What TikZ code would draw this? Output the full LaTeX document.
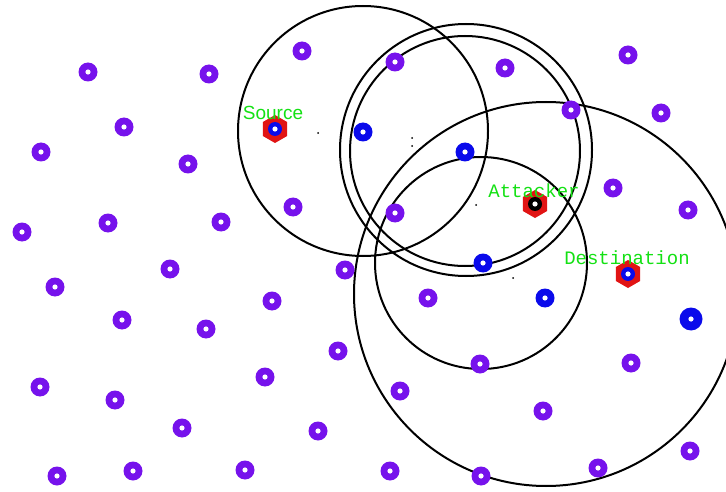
\documentclass[tikz,border=0pt]{standalone}
\usepackage{fontspec}
\setmainfont{Liberation Sans}
\newfontfamily\labmono{Liberation Mono}
\usetikzlibrary{shapes.geometric}
\definecolor{nodepurple}{RGB}{118,18,236}
\definecolor{nodeblue}{RGB}{10,10,235}
\definecolor{hexred}{RGB}{225,20,20}
\definecolor{labgreen}{RGB}{20,225,20}
\tikzset{
  pnode/.style={circle, fill=nodepurple, minimum size=19pt, inner sep=0pt,
    path picture={\fill[white] (path picture bounding box.center) circle (2.6pt);}},
  bnode/.style={pnode, fill=nodeblue},
  hexnode/.style={regular polygon, regular polygon sides=6, shape border rotate=30,
    fill=hexred, minimum size=28pt, inner sep=0pt},
  hnode/.style={pnode, minimum size=14pt},
  rangecircle/.style={draw=black, line width=2pt},
  tinydot/.style={fill=black},
  lab/.style={text=labgreen, inner sep=0pt, font=\labmono\fontsize{19}{19}\selectfont},
  labsans/.style={text=labgreen, inner sep=0pt, font=\fontsize{19}{19}\selectfont}
}
\begin{document}
\begin{tikzpicture}[x=1pt,y=-1pt]
\useasboundingbox (0,0) rectangle (726,492);
\fill[white] (0,0) rectangle (726,492);
\clip (0,0) rectangle (726,492);
% range circles
\draw[rangecircle] (363,131) circle[radius=125pt];
\draw[rangecircle] (466,150) circle[radius=126pt];
\draw[rangecircle] (465,151) circle[radius=115pt];
\draw[rangecircle] (481,263) circle[radius=106pt];
\draw[rangecircle] (546,294) circle[radius=192pt];
% tiny dots
\fill[tinydot] (318,133) circle (1pt);
\fill[tinydot] (412,138) circle (1pt);
\fill[tinydot] (412,146) circle (1pt);
\fill[tinydot] (476,205) circle (1pt);
\fill[tinydot] (513,278) circle (1pt);
% hexagons
\node[hexnode] (srcHex) at (275,129) {};
\node[hexnode] (attHex) at (535,204) {};
\node[hexnode] (dstHex) at (628,274) {};
% special nodes
\node[hnode, fill=nodeblue] (n10) at (275,129) {};
\node[hnode, fill=black] (n17) at (535,204) {};
\node[hnode, fill=nodeblue] (n29) at (628,274) {};
% blue nodes
\node[bnode] (n11) at (363,132) {};
\node[bnode] (n12) at (465,152) {};
\node[bnode] (n26) at (483,263) {};
\node[bnode] (n28) at (545,298) {};
\node[bnode, minimum size=23pt] (n30) at (691,319) {};
% purple nodes
\node[pnode] (n1) at (88,72) {};
\node[pnode] (n2) at (209,74) {};
\node[pnode] (n3) at (302,51) {};
\node[pnode] (n4) at (395,62) {};
\node[pnode] (n5) at (505,68) {};
\node[pnode] (n6) at (628,55) {};
\node[pnode] (n7) at (124,127) {};
\node[pnode] (n8) at (41,152) {};
\node[pnode] (n9) at (188,164) {};
\node[pnode] (n13) at (571,110) {};
\node[pnode] (n14) at (661,113) {};
\node[pnode] (n15) at (293,207) {};
\node[pnode] (n16) at (395,213) {};
\node[pnode] (n18) at (613,188) {};
\node[pnode] (n19) at (688,210) {};
\node[pnode] (n20) at (22,232) {};
\node[pnode] (n21) at (108,223) {};
\node[pnode] (n22) at (221,222) {};
\node[pnode] (n23) at (170,269) {};
\node[pnode] (n24) at (55,287) {};
\node[pnode] (n25) at (345,270) {};
\node[pnode] (n27) at (428,298) {};
\node[pnode] (n31) at (122,320) {};
\node[pnode] (n32) at (206,329) {};
\node[pnode] (n33) at (272,301) {};
\node[pnode] (n34) at (338,351) {};
\node[pnode] (n35) at (480,364) {};
\node[pnode] (n36) at (631,363) {};
\node[pnode] (n37) at (40,387) {};
\node[pnode] (n38) at (115,400) {};
\node[pnode] (n39) at (265,377) {};
\node[pnode] (n40) at (400,391) {};
\node[pnode] (n41) at (182,428) {};
\node[pnode] (n42) at (318,431) {};
\node[pnode] (n43) at (543,411) {};
\node[pnode] (n44) at (690,451) {};
\node[pnode] (n45) at (57,476) {};
\node[pnode] (n46) at (133,471) {};
\node[pnode] (n47) at (245,470) {};
\node[pnode] (n48) at (390,471) {};
\node[pnode] (n49) at (481,476) {};
\node[pnode] (n50) at (598,468) {};
% labels
\node[labsans] (lsrc) at (273,113) {Source};
\node[lab] (latt) at (534,191) {Attacker};
\node[lab] (ldst) at (627,258) {Destination};
\end{tikzpicture}
\end{document}
